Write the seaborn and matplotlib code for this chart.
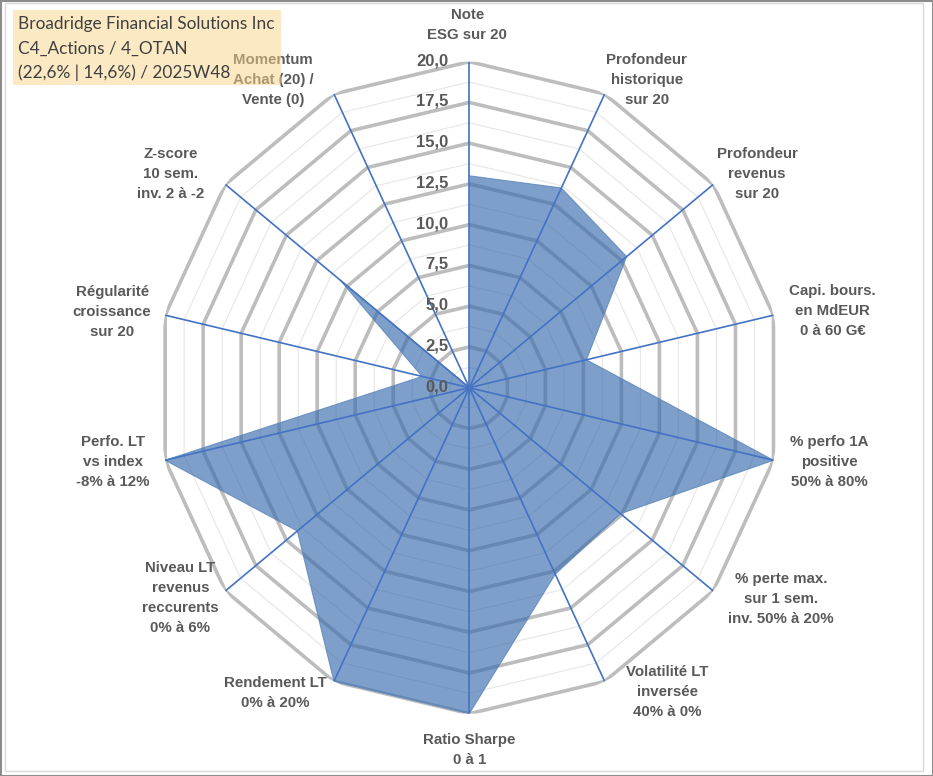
import numpy as np
import pandas as pd
import matplotlib
matplotlib.use("Agg")
import matplotlib.pyplot as plt
import seaborn as sns
from matplotlib.patches import Rectangle

# ---------------- data ----------------
categories = [
    "Note\nESG sur 20",
    "Profondeur\nhistorique\nsur 20",
    "Profondeur\nrevenus\nsur 20",
    "Capi. bours.\nen MdEUR\n0 à 60 G€",
    "% perfo 1A\npositive\n50% à 80%",
    "% perte max.\nsur 1 sem.\ninv. 50% à 20%",
    "Volatilité LT\ninversée\n40% à 0%",
    "Ratio Sharpe\n0 à 1",
    "Rendement LT\n0% à 20%",
    "Niveau LT\nrevenus\nreccurents\n0% à 6%",
    "Perfo. LT\nvs index\n-8% à 12%",
    "Régularité\ncroissance\nsur 20",
    "Z-score\n10 sem.\ninv. 2 à -2",
    "Momentum\nAchat (20) /\nVente (0)",
]
values = [13.0, 13.6, 12.9, 7.7, 20.0, 12.4, 12.7, 20.0, 20.0, 14.1, 20.0, 3.1, 10.6, 0.0]
tick_values = [0.0, 2.5, 5.0, 7.5, 10.0, 12.5, 15.0, 17.5, 20.0]
tick_labels = ["0,0", "2,5", "5,0", "7,5", "10,0", "12,5", "15,0", "17,5", "20,0"]
title_lines = ["Broadridge Financial Solutions Inc",
               "C4_Actions / 4_OTAN",
               "(22,6% | 14,6%) / 2025W48"]
# label offsets (pixels) from the outer vertex of each axis
label_offsets = [(-2, 37), (42, 14), (44, 10), (59, 4), (56, -2), (68, -8), (63, -11),
                 (0, -36), (-59, -12), (-45, -7), (-52, -2), (-53, 3), (-55, 10), (-61, 14)]

# ---------------- style ----------------
sns.set_theme(style="white")
plt.rcParams["font.family"] = ["Liberation Sans", "DejaVu Sans"]

W, H = 933, 776
fig = plt.figure(figsize=(W / 100, H / 100), dpi=100)
fig.patch.set_facecolor("white")

cx, cy = 469.3, 387.7
Ry, Rx = 326.0, 312.0
ax = fig.add_axes([(cx - Rx) / W, (H - cy - Ry) / H, 2 * Rx / W, 2 * Ry / H],
                  projection="polar")
ax.set_aspect("auto")
ax.set_theta_offset(np.pi / 2)
ax.set_theta_direction(-1)
ax.set_ylim(0, 20)
ax.grid(False)
ax.spines["polar"].set_visible(False)
ax.set_xticks([])
ax.set_yticks([])
ax.set_facecolor("none")

n = len(categories)
theta = np.arange(n) * 2 * np.pi / n
theta_c = np.append(theta, theta[0])

# minor polygon grid
for r in np.arange(1.25, 20, 2.5):
    ax.plot(theta_c, [r] * (n + 1), color="#E6E6E6", lw=0.8, zorder=1)
# major polygon grid
for r in tick_values[1:]:
    ax.plot(theta_c, [r] * (n + 1), color="#BDBDBD", lw=2.6, zorder=1,
            solid_joinstyle="miter")

# data polygon
df = pd.DataFrame({"theta": theta_c, "value": values + [values[0]]})
ax.fill(df["theta"], df["value"], color="#3A6DAE", alpha=0.66, lw=0, zorder=2)
sns.lineplot(data=df, x="theta", y="value", sort=False, ax=ax, color="#5A86BE",
             lw=0.8, alpha=0.8, zorder=2, legend=False)
ax.set_xlabel("")
ax.set_ylabel("")

# spokes
for t in theta:
    ax.plot([t, t], [0, 20], color="#4472C4", lw=1.2, zorder=3)

# radial tick labels
for v, lab in zip(tick_values, tick_labels):
    ax.annotate(lab, xy=(0, v), xytext=(-21, 1), textcoords="offset pixels",
                ha="right", va="center", fontsize=12, fontweight="bold",
                color="#595959", zorder=4, annotation_clip=False)

# category labels
for t, lab, (dx, dy) in zip(theta, categories, label_offsets):
    ax.annotate(lab, xy=(t, 20), xytext=(dx, dy), textcoords="offset pixels",
                ha="center", va="center", multialignment="center",
                fontsize=10.8, fontweight="bold", color="#595959",
                linespacing=1.55, zorder=4, annotation_clip=False)

# title box (semi-transparent, overlapping the Momentum label)
fig.patches.append(Rectangle((13 / W, 1 - 85 / H), (281 - 13) / W, (85 - 10) / H,
                             transform=fig.transFigure, facecolor="#F9D589",
                             alpha=0.5, edgecolor="none", zorder=10))
for i, line in enumerate(title_lines):
    fig.text(18 / W, 1 - (24 + i * 24.5) / H, line, ha="left", va="center",
             fontsize=12.4, color="#404040", family=["Lato", "DejaVu Sans"],
             zorder=11)

# chart-area borders
fig.patches.append(Rectangle((5 / W, 1 - 771 / H), (923 - 5) / W, (771 - 3) / H,
                             transform=fig.transFigure, facecolor="none",
                             edgecolor="#D9D9D9", lw=1, zorder=12))
fig.patches.append(Rectangle((0.5 / W, 0.5 / H), (W - 1) / W, (H - 1) / H,
                             transform=fig.transFigure, facecolor="none",
                             edgecolor="#8C8C8C", lw=1.5, zorder=12))

fig.savefig("out.png", dpi=100)
